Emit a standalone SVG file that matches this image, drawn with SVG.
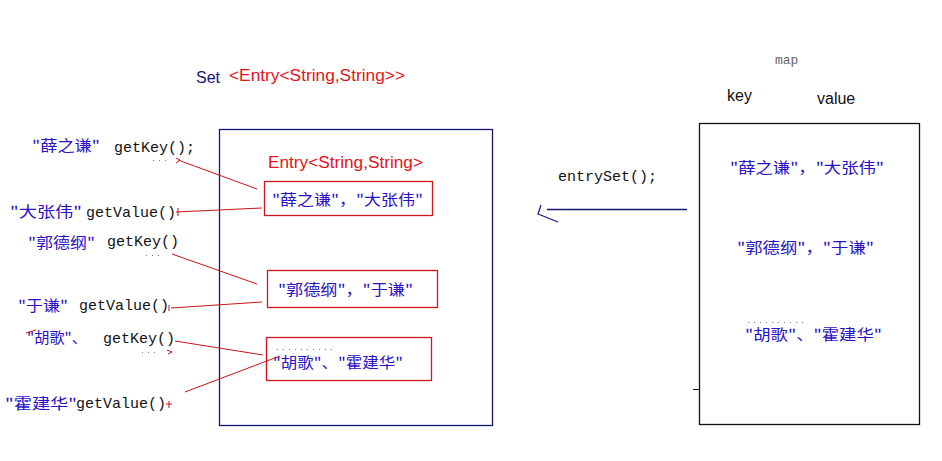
<svg xmlns="http://www.w3.org/2000/svg" width="942" height="461" viewBox="0 0 942 461">
<style>
.bg{fill:#fff}
.cn{font-family:"Noto Sans CJK SC","Liberation Sans",sans-serif;font-size:15px;fill:#2a10c8}
.code{font-family:"Liberation Mono","DejaVu Sans Mono",monospace;font-size:15px;fill:#111}
.sans{font-family:"Liberation Sans","Noto Sans",sans-serif;font-size:16px}
.red{fill:#e2141c}
.navy{fill:#14147a}
.ebox{fill:none;stroke:#d0161c;stroke-width:1.3}
.rl{fill:none;stroke:#c8141a;stroke-width:1}
.dots{fill:none;stroke:#777;stroke-width:1;stroke-dasharray:1 5}
</style>
<rect class="bg" x="0" y="0" width="942" height="461"/>

<g id="set-title">
<text class="sans navy" x="196" y="83">Set</text>
<text class="sans red" x="229" y="81" textLength="176" lengthAdjust="spacingAndGlyphs">&lt;Entry&lt;String,String&gt;&gt;</text>
</g>

<g id="set-box">
<rect x="219.5" y="129.5" width="273" height="296" fill="none" stroke="#14147a" stroke-width="1.3"/>
<text class="sans red" x="268" y="168" textLength="155" lengthAdjust="spacingAndGlyphs">Entry&lt;String,String&gt;</text>
</g>

<g id="entry1">
<rect class="ebox" x="264.5" y="181.5" width="168" height="34"/>
<text class="cn" x="272" y="205" textLength="151" lengthAdjust="spacingAndGlyphs">"薛之谦"，"大张伟"</text>
</g>
<g id="entry2">
<rect class="ebox" x="267.5" y="270.5" width="170" height="37"/>
<text class="cn" x="278" y="295" textLength="135" lengthAdjust="spacingAndGlyphs">"郭德纲"，"于谦"</text>
</g>
<g id="entry3">
<rect class="ebox" x="266.5" y="337.5" width="165" height="43"/>
<line class="dots" x1="277" y1="349.5" x2="337" y2="349.5"/>
<text class="cn" x="273" y="368" textLength="130" lengthAdjust="spacingAndGlyphs">"胡歌"、"霍建华"</text>
</g>

<g id="label1">
<text class="cn" x="32" y="151" textLength="68" lengthAdjust="spacingAndGlyphs">"薛之谦"</text>
<text class="code" x="114" y="152">getKey();</text>
<line class="dots" x1="153" y1="160.5" x2="170" y2="160.5"/>
</g>
<g id="label2">
<text class="cn" x="10" y="217" textLength="72" lengthAdjust="spacingAndGlyphs">"大张伟"</text>
<text class="code" x="86" y="217">getValue()</text>
</g>
<g id="label3">
<text class="cn" x="28" y="248" textLength="67" lengthAdjust="spacingAndGlyphs">"郭德纲"</text>
<text class="code" x="107" y="246">getKey()</text>
<line class="dots" x1="146" y1="255.5" x2="163" y2="255.5"/>
</g>
<g id="label4">
<text class="cn" x="18" y="311" textLength="50" lengthAdjust="spacingAndGlyphs">"于谦"</text>
<text class="code" x="79" y="310">getValue()</text>
</g>
<g id="label5">
<text class="cn" x="27" y="343" textLength="60" lengthAdjust="spacingAndGlyphs">"胡歌"、</text>
<text class="code" x="103" y="343">getKey()</text>
<line class="dots" x1="142" y1="352.5" x2="159" y2="352.5"/>
</g>
<g id="label6">
<text class="cn" x="5" y="409" textLength="72" lengthAdjust="spacingAndGlyphs">"霍建华"</text>
<text class="code" x="76" y="408">getValue()</text>
</g>

<g id="map-box">
<text x="775" y="64" font-family="Liberation Mono,DejaVu Sans Mono,monospace" font-size="13" fill="#666">map</text>
<text x="727" y="101" font-family="Liberation Sans,sans-serif" font-size="16" fill="#111">key</text>
<text x="817" y="104" font-family="Liberation Sans,sans-serif" font-size="16" fill="#111">value</text>
<rect x="699.5" y="123.5" width="220" height="301" fill="none" stroke="#111" stroke-width="1.3"/>
<line x1="693" y1="389.5" x2="699" y2="389.5" stroke="#111" stroke-width="1"/>
<text class="cn" x="730" y="173" textLength="154" lengthAdjust="spacingAndGlyphs">"薛之谦"，"大张伟"</text>
<text class="cn" x="737" y="253" textLength="137" lengthAdjust="spacingAndGlyphs">"郭德纲"，"于谦"</text>
<line class="dots" x1="748" y1="322.5" x2="806" y2="322.5"/>
<text class="cn" x="745" y="340" textLength="137" lengthAdjust="spacingAndGlyphs">"胡歌"、"霍建华"</text>
</g>

<g id="connectors">
<text class="code" x="558" y="181">entrySet();</text>
<line x1="547" y1="209.5" x2="687" y2="209.5" stroke="#14147a" stroke-width="1.3"/>
<polyline points="541,205 538,214 558,222" fill="none" stroke="#14147a" stroke-width="1.2"/>

<line class="rl" x1="178" y1="160" x2="257" y2="189"/>
<polyline class="rl" points="176,158 180,160 176,163"/>
<line class="rl" x1="176" y1="212" x2="262" y2="208"/>
<line class="rl" x1="178" y1="208" x2="178" y2="216"/>
<line class="rl" x1="172" y1="254" x2="257" y2="284"/>
<line class="rl" x1="171" y1="308" x2="262" y2="302"/>
<line class="rl" x1="169" y1="305" x2="169" y2="311"/>
<line class="rl" x1="175" y1="341" x2="263" y2="355"/>
<polyline class="rl" points="167,350 172,352 168,354"/>
<line class="rl" x1="185" y1="392" x2="280" y2="356"/>
<line class="rl" x1="166" y1="404" x2="172" y2="404"/>
<line class="rl" x1="169" y1="401" x2="169" y2="408"/>
<line class="rl" x1="26" y1="333" x2="36" y2="330"/>
</g>
</svg>
